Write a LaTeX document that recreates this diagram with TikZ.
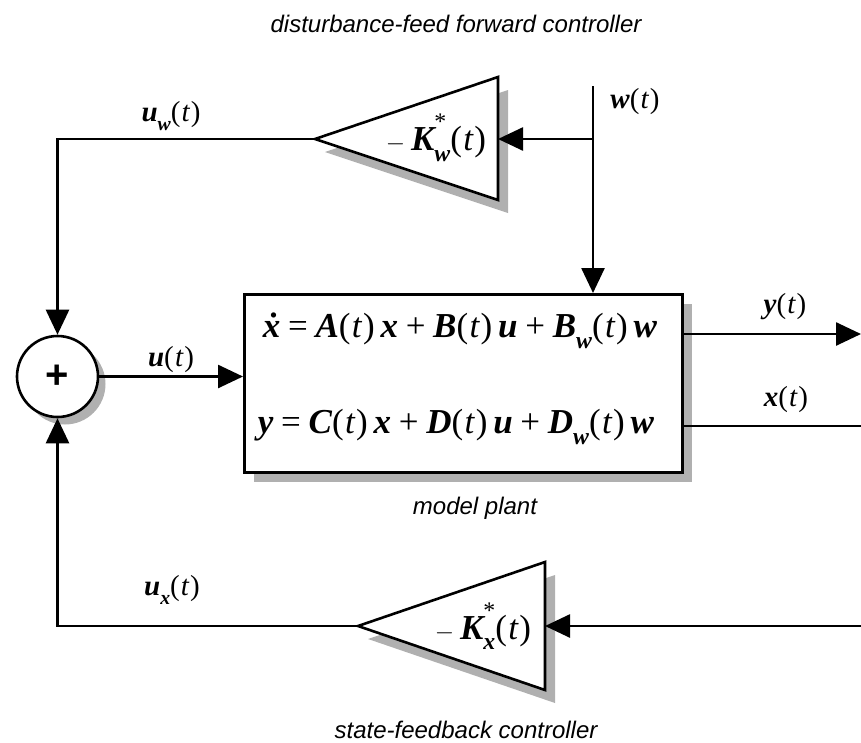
\documentclass[tikz,border=0pt]{standalone}
\usepackage{fontspec}
\usepackage{graphicx}
\setmainfont{Liberation Serif}
\newfontfamily\arialfont{Liberation Sans}
\usetikzlibrary{arrows.meta}
\newcommand\mybi[1]{{\bfseries\itshape #1}}
\newcommand\mypt{(\kern0.04em{\itshape t}\kern0.04em)}
\newcommand\mysub[1]{\raisebox{-0.3em}{\scalebox{0.68}{\mybi{#1}}}}
\newcommand\myks[1]{\mybi{K}\rlap{\raisebox{0.6em}{\scalebox{0.68}{*}}}\mysub{#1}}
\newcommand\myop[1]{\hspace{0.22em}#1\hspace{0.22em}}
\begin{document}
\begin{tikzpicture}[x=1pt,y=-1pt,
  line/.style={line width=2.6pt},
  arr/.style={line width=2.6pt,-{Triangle[length=25pt,width=23pt]}},
  shadow/.style={fill=gray!62,draw=none},
  lbl/.style={font=\fontsize{29}{32}\selectfont, inner sep=0pt},
  eq/.style={font=\fontsize{35}{40}\selectfont, inner sep=0pt},
  captxt/.style={font=\arialfont\itshape\fontsize{24}{28}\selectfont, inner sep=0pt}]
\useasboundingbox (0,0) rectangle (861,742);

% plant box
\fill[shadow] (254,304) rectangle (692,482);
\node[draw, fill=white, line width=2.6pt, minimum width=438pt, minimum height=178pt,
      inner sep=0pt, anchor=north west] (plant) at (243,293) {};
\node[eq] (eq1) at (460,331) {\mybi{\.x}\myop{=}\mybi{A}\mypt\,\mybi{x}\myop{+}\mybi{B}\mypt\,\mybi{u}\myop{+}\mybi{B}\mysub{w}\mypt\,\mybi{w}};
\node[eq] (eq2) at (456,427) {\mybi{y}\myop{=}\mybi{C}\mypt\,\mybi{x}\myop{+}\mybi{D}\mypt\,\mybi{u}\myop{+}\mybi{D}\mysub{w}\mypt\,\mybi{w}};

% summing junction
\fill[shadow] (65,384) circle (40.5);
\node[circle, draw, fill=white, line width=2.6pt, minimum size=81pt, inner sep=0pt,
      font=\arialfont\bfseries\fontsize{40}{40}\selectfont] (sum) at (57.5,376.5) {+};

% top gain
\fill[shadow] (508,90) -- (508,213) -- (325,152) -- cycle;
\draw[line, fill=white, line join=miter] (498,77) -- (498,200) -- (315,139) -- cycle;
\coordinate (kwtip) at (315,139);
\coordinate (kwin) at (498,139);
\node[eq] (kw) at (436,138) {$-$\,\myks{w}\mypt};

% bottom gain
\fill[shadow] (555,575) -- (555,703) -- (368,639) -- cycle;
\draw[line, fill=white, line join=miter] (545,562) -- (545,690) -- (358,626) -- cycle;
\coordinate (kxtip) at (358,626);
\coordinate (kxin) at (545,626);
\node[eq] (kx) at (483,626) {$-$\,\myks{x}\mypt};

% connectors
\coordinate (wtop) at (593,86);
\coordinate (wj) at (593,139);
\coordinate (yout) at (861,334);
\coordinate (xout) at (861,426);
\coordinate (xin) at (861,626);
\draw[arr] (wtop) -- (plant.north -| wtop);
\draw[arr] (wj) -- (kwin);
\draw[arr] (kwtip) -| (sum.north);
\draw[arr] (sum.east) -- (sum.east -| plant.west);
\draw[arr] (yout -| plant.east) -- (yout);
\draw[line] (xout -| plant.east) -- (xout);
\draw[arr] (xin) -- (kxin);
\draw[arr] (kxtip) -| (sum.south);

% signal labels
\node[lbl] (lw) at (635,102) {\mybi{w}\mypt};
\node[lbl] (luw) at (171,116) {\mybi{u}\mysub{w}\mypt};
\node[lbl] (lu) at (171,360) {\mybi{u}\mypt};
\node[lbl] (ly) at (785,307) {\mybi{y}\mypt};
\node[lbl] (lx) at (786,400) {\mybi{x}\mypt};
\node[lbl] (lux) at (172,590) {\mybi{u}\mysub{x}\mypt};

% captions
\node[captxt] (c1) at (456,24) {disturbance-feed forward controller};
\node[captxt] (c2) at (475,508) {model plant};
\node[captxt] (c3) at (466,730) {state-feedback controller};
\end{tikzpicture}
\end{document}
